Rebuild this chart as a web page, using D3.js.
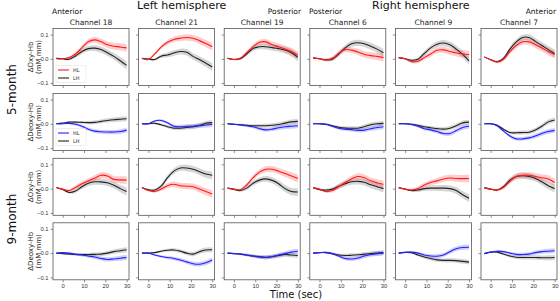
<!DOCTYPE html>
<html>
<head>
<meta charset="utf-8">
<script src="https://cdn.jsdelivr.net/npm/d3@7"></script>
<style>
  body { margin: 0; background: #fff; }
  svg { font-family: "DejaVu Sans", sans-serif; }
</style>
</head>
<body>
<div class="container"></div>
<script>
// time points (sec)
const times = [-3, 0, 3, 6, 9, 12, 15, 18, 21, 24, 27, 30]
const channels = ['Channel 18', 'Channel 21', 'Channel 19', 'Channel 6', 'Channel 9', 'Channel 7']
const yTicks = [-0.1, 0.0, 0.1]
const xTicks = [0, 10, 20, 30]

// 5-month, oxy-Hb
const oxy5HL = [
  [0, 0, 0.005, 0.02, 0.045, 0.07, 0.078, 0.07, 0.058, 0.052, 0.049, 0.045],
  [0.002, -0.003, 0.02, 0.048, 0.068, 0.08, 0.085, 0.088, 0.085, 0.075, 0.063, 0.05],
  [0.002, -0.003, 0.002, 0.025, 0.05, 0.068, 0.07, 0.058, 0.05, 0.04, 0.03, 0.014],
  [0.004, 0, -0.005, 0.002, 0.022, 0.038, 0.036, 0.028, 0.018, 0.013, 0.01, 0.005],
  [0.005, 0, -0.012, -0.01, 0.005, 0.02, 0.035, 0.037, 0.03, 0.024, 0.02, 0.018],
  [0.008, -0.004, -0.013, -0.002, 0.03, 0.055, 0.07, 0.07, 0.058, 0.045, 0.03, 0.018]
]
const oxy5LH = [
  [0.002, 0, -0.002, 0.012, 0.03, 0.042, 0.044, 0.038, 0.025, 0.01, -0.008, -0.027],
  [0.002, -0.001, -0.003, 0.011, 0.016, 0.024, 0.03, 0.027, 0.01, -0.003, -0.018, -0.034],
  [0.002, -0.003, 0, 0.02, 0.042, 0.05, 0.05, 0.046, 0.042, 0.036, 0.025, 0.006],
  [0.004, 0, -0.004, -0.002, 0.02, 0.045, 0.062, 0.066, 0.062, 0.052, 0.04, 0.025],
  [0.005, 0, -0.006, -0.002, 0.022, 0.045, 0.06, 0.065, 0.058, 0.04, 0.018, -0.008],
  [0.008, -0.004, -0.012, 0.002, 0.04, 0.07, 0.088, 0.088, 0.072, 0.055, 0.038, 0.022]
]
// 5-month, deoxy-Hb
const deoxy5HL = [
  [0, 0, 0.002, -0.002, -0.01, -0.022, -0.03, -0.033, -0.034, -0.034, -0.032, -0.026],
  [0, 0, 0.012, 0.014, 0.004, -0.01, -0.012, -0.01, -0.01, -0.008, -0.005, -0.003],
  [0, -0.002, -0.005, -0.008, -0.012, -0.02, -0.025, -0.022, -0.016, -0.012, -0.01, -0.008],
  [0, 0, -0.002, -0.01, -0.018, -0.022, -0.024, -0.027, -0.026, -0.02, -0.015, -0.012],
  [0, 0, -0.003, -0.01, -0.02, -0.025, -0.032, -0.04, -0.04, -0.028, -0.015, -0.01],
  [0, 0, -0.008, -0.03, -0.05, -0.062, -0.062, -0.058, -0.05, -0.04, -0.032, -0.027]
]
const deoxy5LH = [
  [0, 0.003, 0.007, 0.007, 0.006, 0.005, 0.006, 0.01, 0.014, 0.017, 0.019, 0.021],
  [0, 0, 0.002, -0.004, -0.012, -0.018, -0.018, -0.015, -0.012, -0.006, 0.002, 0.005],
  [0, -0.002, -0.004, -0.006, -0.008, -0.008, -0.008, -0.006, -0.003, 0.003, 0.008, 0.01],
  [0, 0, -0.002, -0.008, -0.014, -0.017, -0.018, -0.018, -0.012, -0.004, 0, 0.002],
  [0, 0, -0.002, -0.006, -0.012, -0.016, -0.02, -0.022, -0.018, -0.008, 0.004, 0.007],
  [0, 0, -0.006, -0.022, -0.036, -0.037, -0.036, -0.035, -0.025, -0.01, 0.008, 0.016]
]
// 9-month, oxy-Hb
const oxy9HL = [
  [0.005, -0.002, -0.008, 0.005, 0.02, 0.032, 0.043, 0.055, 0.052, 0.038, 0.036, 0.035],
  [0.005, -0.008, -0.012, -0.002, 0.012, 0.018, 0.012, 0.01, 0.008, -0.002, -0.012, -0.022],
  [0.002, -0.002, -0.005, 0.015, 0.045, 0.068, 0.08, 0.08, 0.072, 0.062, 0.052, 0.042],
  [0.004, -0.002, -0.012, -0.008, 0.008, 0.025, 0.04, 0.05, 0.045, 0.032, 0.024, 0.018],
  [0.004, -0.002, -0.006, 0, 0.015, 0.025, 0.032, 0.04, 0.044, 0.042, 0.041, 0.042],
  [0.004, -0.002, -0.006, 0.005, 0.03, 0.05, 0.055, 0.055, 0.05, 0.045, 0.04, 0.025]
]
const oxy9LH = [
  [0.005, -0.004, -0.016, -0.01, 0.008, 0.022, 0.028, 0.028, 0.024, 0.014, 0, -0.012],
  [0.005, -0.004, -0.006, 0.01, 0.045, 0.072, 0.085, 0.085, 0.08, 0.07, 0.06, 0.055],
  [0.002, -0.003, -0.008, 0.002, 0.022, 0.035, 0.04, 0.034, 0.02, 0, -0.012, -0.014],
  [0.004, -0.004, -0.006, -0.002, 0.01, 0.02, 0.028, 0.03, 0.026, 0.016, 0.008, 0],
  [0.004, -0.002, -0.008, -0.006, 0, 0.002, 0.002, 0.002, 0, -0.008, -0.025, -0.04],
  [0.004, -0.002, -0.006, 0.008, 0.035, 0.05, 0.053, 0.05, 0.042, 0.028, 0.012, 0]
]
// 9-month, deoxy-Hb
const deoxy9HL = [
  [0, 0.002, 0, -0.004, -0.008, -0.012, -0.016, -0.022, -0.026, -0.024, -0.021, -0.018],
  [0, 0, -0.008, -0.014, -0.018, -0.022, -0.028, -0.036, -0.044, -0.046, -0.04, -0.028],
  [0, -0.002, -0.004, -0.008, -0.012, -0.016, -0.018, -0.014, -0.008, -0.002, 0.004, 0.008],
  [0, 0.002, 0.003, -0.002, -0.012, -0.022, -0.024, -0.02, -0.012, -0.006, -0.002, 0],
  [0, 0.003, 0.004, 0, -0.008, -0.012, -0.013, -0.008, 0.006, 0.018, 0.023, 0.024],
  [-0.002, 0.004, 0.008, 0.006, 0, -0.005, -0.006, -0.004, 0.002, 0.006, 0.008, 0.01]
]
const deoxy9LH = [
  [0, -0.002, -0.004, -0.006, -0.006, -0.006, -0.005, -0.004, 0, 0.006, 0.01, 0.014],
  [0, 0, 0.002, 0.008, 0.012, 0.013, 0.008, 0, -0.004, 0.006, 0.013, 0.014],
  [0, -0.002, -0.004, -0.008, -0.012, -0.015, -0.017, -0.015, -0.01, -0.006, -0.008, -0.01],
  [0, 0.002, 0.002, -0.002, -0.008, -0.01, -0.009, -0.007, -0.004, -0.002, 0, 0.002],
  [0, 0.003, 0.002, -0.008, -0.016, -0.022, -0.028, -0.03, -0.03, -0.031, -0.034, -0.037],
  [-0.002, 0.004, 0.004, -0.004, -0.012, -0.017, -0.018, -0.018, -0.018, -0.019, -0.019, -0.018]
]
// standard error bands (shared by the channels of a row)
const semOxy = [0.002, 0.003, 0.005, 0.008, 0.01, 0.011, 0.012, 0.013, 0.013, 0.014, 0.015, 0.016]
const semDeoxy = [0.001, 0.002, 0.004, 0.005, 0.006, 0.007, 0.008, 0.008, 0.009, 0.009, 0.01, 0.01]

const rows = [
  { hl: oxy5HL, lh: oxy5LH, sem: semOxy, color: '#ff1a1a', label: 'ΔOxy-Hb', legend: true },
  { hl: deoxy5HL, lh: deoxy5LH, sem: semDeoxy, color: '#2222ff', label: 'ΔDeoxy-Hb', legend: true },
  { hl: oxy9HL, lh: oxy9LH, sem: semOxy, color: '#ff1a1a', label: 'ΔOxy-Hb', legend: false },
  { hl: deoxy9HL, lh: deoxy9LH, sem: semDeoxy, color: '#2222ff', label: 'ΔDeoxy-Hb', legend: false }
]

const W = 560, H = 301
const PANEL_X0 = 53, PANEL_STEP = 85.6, PANEL_W = 76
const ROW_Y0 = [28.5, 93.5, 158.3, 222.8], PANEL_H = 57

const svg = d3.select('.container').append('svg')
  .attr('width', W).attr('height', H)

const x = d3.scaleLinear().domain([-4.55, 31.1]).range([0, PANEL_W])
const y = d3.scaleLinear().domain([-0.11, 0.125]).range([PANEL_H, 0])

const line = d3.line()
  .x((d, i) => x(times[i]))
  .y(d => y(d))
  .curve(d3.curveCatmullRom)

const band = sem => d3.area()
  .x((d, i) => x(times[i]))
  .y0((d, i) => y(d - sem[i]))
  .y1((d, i) => y(d + sem[i]))
  .curve(d3.curveCatmullRom)

rows.forEach((row, r) => {
  channels.forEach((ch, c) => {
    const g = svg.append('g')
      .attr('transform', `translate(${PANEL_X0 + c * PANEL_STEP}, ${ROW_Y0[r]})`)

    const series = [
      { vals: row.lh[c], color: '#222', fill: '#777', op: 0.3 },
      { vals: row.hl[c], color: row.color, fill: row.color, op: 0.22 }
    ]
    series.forEach(s => {
      g.append('path')
        .attr('d', band(row.sem)(s.vals))
        .attr('fill', s.fill)
        .attr('fill-opacity', s.op)
    })
    series.forEach(s => {
      g.append('path')
        .attr('d', line(s.vals))
        .attr('fill', 'none')
        .attr('stroke', s.color)
        .attr('stroke-width', 1.1)
    })

    // axes
    const yAxis = d3.axisLeft(y).tickValues(yTicks).tickSize(2.5).tickPadding(2)
    const xAxis = d3.axisBottom(x).tickValues(xTicks).tickSize(2.5).tickPadding(2)
      .tickFormat(r === rows.length - 1 ? d3.format('d') : '')

    const ya = g.append('g').call(yAxis)
    const xa = g.append('g').attr('transform', `translate(0, ${PANEL_H})`).call(xAxis)
    ;[ya, xa].forEach(a => {
      a.select('.domain').remove()
      a.selectAll('line').attr('stroke', '#444').attr('stroke-width', 0.6)
      a.selectAll('text').attr('font-size', 5.8).attr('fill', '#333')
    })
    ya.selectAll('text').text(d => c === 0 ? d3.format('.1f')(d).replace('-', '\u22121') : '')

    g.append('rect')
      .attr('width', PANEL_W).attr('height', PANEL_H)
      .attr('fill', 'none').attr('stroke', '#555').attr('stroke-width', 0.8)

    if (r === 0) {
      g.append('text').text(ch)
        .attr('x', PANEL_W / 2).attr('y', -4)
        .attr('text-anchor', 'middle').attr('font-size', 7.5).attr('fill', '#222')
    }

    if (c === 0 && row.legend) {
      const lg = g.append('g').attr('transform', `translate(3, ${r === 0 ? 37 : 35})`)
      lg.append('rect').attr('width', 30).attr('height', 17)
        .attr('fill', '#fff').attr('fill-opacity', 0.8)
        .attr('stroke', '#ddd').attr('stroke-width', 0.5).attr('rx', 1)
      ;[['HL', row.color], ['LH', '#222']].forEach(([name, col], k) => {
        lg.append('line').attr('x1', 2).attr('x2', 13)
          .attr('y1', 4.5 + k * 8).attr('y2', 4.5 + k * 8)
          .attr('stroke', col).attr('stroke-width', 1.1)
        lg.append('text').text(name)
          .attr('x', 17).attr('y', 6.5 + k * 8)
          .attr('font-size', 5).attr('fill', '#333')
      })
    }
  })

  // y label
  const cy = ROW_Y0[r] + PANEL_H / 2
  const yl = svg.append('text')
    .attr('transform', `translate(34, ${cy}) rotate(-90)`)
    .attr('text-anchor', 'middle').attr('font-size', 7).attr('fill', '#222')
  yl.append('tspan').attr('x', 0).attr('dy', -1.5).text(row.label)
  yl.append('tspan').attr('x', 0).attr('dy', 8).text('(mM mm)')
})

// age labels
;[['5-month', (ROW_Y0[0] + ROW_Y0[1] + PANEL_H) / 2], ['9-month', (ROW_Y0[2] + ROW_Y0[3] + PANEL_H) / 2]]
  .forEach(([t, cy]) => {
    svg.append('text').text(t)
      .attr('transform', `translate(16, ${cy}) rotate(-90)`)
      .attr('text-anchor', 'middle').attr('font-size', 12).attr('fill', '#111')
  })

// header texts
const header = [
  ['Anterior', 52, 14, 7.5, 'start'],
  ['Left hemisphere', 137, 9, 11, 'start'],
  ['Posterior', 301, 14, 7.5, 'end'],
  ['Posterior', 309, 14, 7.5, 'start'],
  ['Right hemisphere', 372, 9, 11, 'start'],
  ['Anterior', 556, 14, 7.5, 'end']
]
header.forEach(([t, hx, hy, fs, anchor]) => {
  svg.append('text').text(t)
    .attr('x', hx).attr('y', hy)
    .attr('text-anchor', anchor).attr('font-size', fs).attr('fill', '#111')
})

svg.append('text').text('Time (sec)')
  .attr('x', 296).attr('y', 298)
  .attr('text-anchor', 'middle').attr('font-size', 10).attr('fill', '#111')
</script>
</body>
</html>
